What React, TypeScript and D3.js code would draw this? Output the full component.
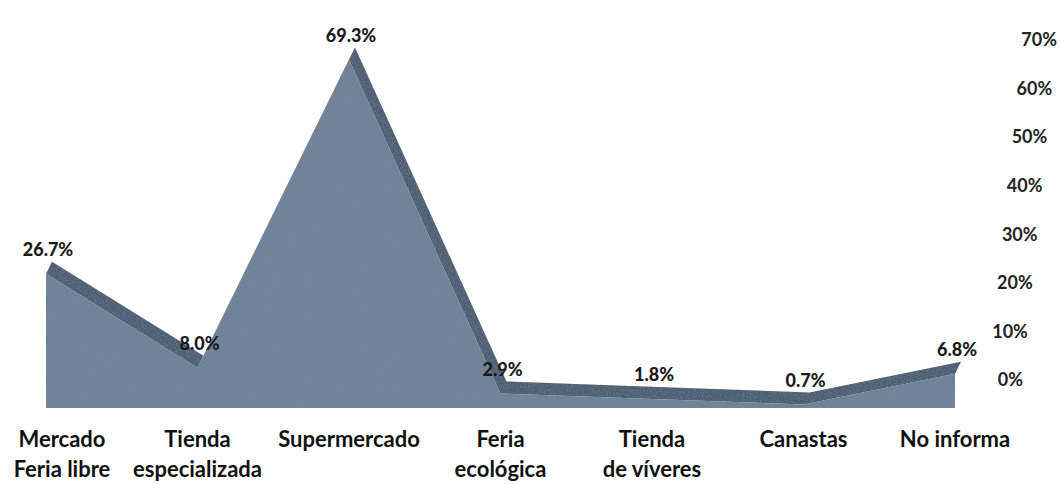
import React from 'react';
import * as d3 from 'd3';

const categories = ['Mercado|Feria libre', 'Tienda|especializada', 'Supermercado', 'Feria|ecológica', 'Tienda|de víveres', 'Canastas', 'No informa'];
const values = [26.7, 8.0, 69.3, 2.9, 1.8, 0.7, 6.8];
const valueLabels = ['26.7%', '8.0%', '69.3%', '2.9%', '1.8%', '0.7%', '6.8%'];
const axisTicks = [0, 10, 20, 30, 40, 50, 60, 70];

const W = 1061;
const H = 485;
const font = 'Lato, "Open Sans", sans-serif';
const front = '#6f8298';
const top = '#4c5d71';
const depth = { dx: 6, dy: -12 };

type Pt = { c: string; v: number };

const App: React.FC = () => {
  const x = d3.scalePoint<string>().domain(categories).range([46, 955]);
  // front face of the 3D area
  const y = d3.scaleLinear().domain([0, 70]).range([408, 56]);
  // back wall, where the percentage axis sits
  const yAxis = d3.scaleLinear().domain([0, 70]).range([380, 40]);
  const xAxis = d3.scaleLinear().domain([0, 70]).range([1023, 1057]);

  const pts: Pt[] = categories.map((c, i) => ({ c, v: values[i] }));
  const area = d3
    .area<Pt>()
    .x(p => x(p.c) as number)
    .y0(y(0))
    .y1(p => y(p.v));

  const frontLine = pts.map(p => [x(p.c) as number, y(p.v)] as [number, number]);
  const backLine = frontLine.map(([px, py]) => [px + depth.dx, py + depth.dy] as [number, number]);
  const ribbon = d3.line()([...frontLine, ...backLine.reverse()]) + 'Z';

  const d = area(pts) || '';

  return (
    <svg width={W} height={H} style={{ position: 'absolute', left: 0, top: 0, background: '#fff' }}>
      <defs>
        <filter id="grain" x="0" y="0" width="100%" height="100%">
          <feTurbulence type="fractalNoise" baseFrequency="0.6" numOctaves={3} seed={3} result="n" />
          <feColorMatrix
            in="n"
            type="matrix"
            values="0 0 0 0 0.2  0 0 0 0 0.25  0 0 0 0 0.32  1.2 0 0 0 -0.45"
            result="na"
          />
          <feComposite in="na" in2="SourceAlpha" operator="in" />
        </filter>
      </defs>

      {/* top / depth surface */}
      <path d={ribbon} fill={top} />
      <path d={ribbon} fill={top} filter="url(#grain)" />
      {/* front face */}
      <path d={d} fill={front} />
      <path d={d} fill={front} filter="url(#grain)" />

      {axisTicks.map(t => (
        <text
          key={t}
          x={xAxis(t)}
          y={yAxis(t)}
          dy="0.35em"
          textAnchor="end"
          fontFamily={font}
          fontWeight={700}
          fontSize={18}
          fill="#222"
        >
          {t}%
        </text>
      ))}

      {pts.map((p, i) => (
        <text
          key={p.c}
          x={(x(p.c) as number) + 2}
          y={y(p.v) - 24}
          dy="0.35em"
          textAnchor="middle"
          fontFamily={font}
          fontWeight={900}
          fontSize={18}
          fill="#1a1a1a"
        >
          {valueLabels[i]}
        </text>
      ))}

      {categories.map(c => {
        const lines = c.split('|');
        const cx = Math.max(x(c) as number, 62);
        return (
          <text key={c} x={cx} y={447} textAnchor="middle" fontFamily={font} fontWeight={700} fontSize={22} fill="#111">
            {lines.map((l, j) => (
              <tspan key={j} x={cx} dy={j === 0 ? 0 : 30}>
                {l}
              </tspan>
            ))}
          </text>
        );
      })}
    </svg>
  );
};

export default App;
